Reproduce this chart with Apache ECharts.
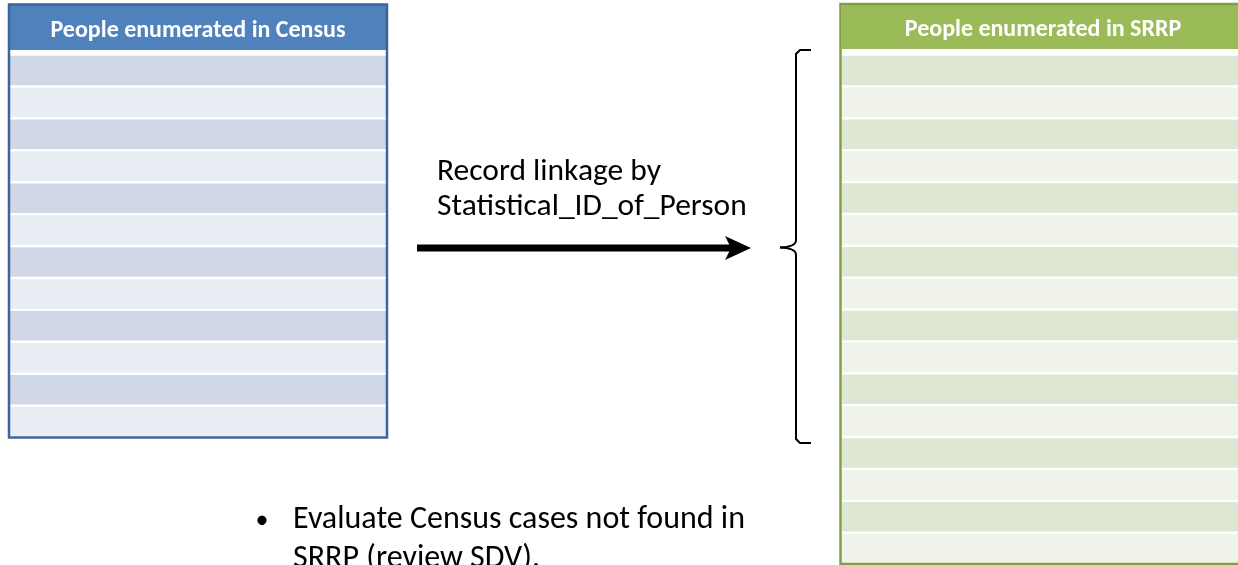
<!DOCTYPE html>
<html>
<head>
<meta charset="utf-8">
<script src="https://cdn.jsdelivr.net/npm/echarts@6/dist/echarts.min.js"></script>
<style>
html,body{margin:0;padding:0;background:#ffffff;}
#chart{width:1238px;height:565px;}
</style>
</head>
<body>
<div id="chart"></div>
<script>
// ---- data ----
const tableTitles = ['People enumerated in Census', 'People enumerated in SRRP'];
const censusRowLabels = ['R1','R2','R3','R4','R5','R6','R7','R8','R9','R10','R11','R12'];
const censusRowValues = [1,1,1,1,1,1,1,1,1,1,1,1];
const srrpRowLabels = ['R1','R2','R3','R4','R5','R6','R7','R8','R9','R10','R11','R12','R13','R14','R15','R16'];
const srrpRowValues = [1,1,1,1,1,1,1,1,1,1,1,1,1,1,1,1];
const linkageText = ['Record linkage by', 'Statistical_ID_of_Person'];
const bulletText = ['Evaluate Census cases not found in', 'SRRP (review SDV).'];

const FONT = 'Carlito, Lato, sans-serif';
const chart = echarts.init(document.getElementById('chart'), null, {renderer: 'canvas'});

function stripe(dark, light) {
  return function (p) { return p.dataIndex % 2 === 0 ? dark : light; };
}

const braceStyle = {fill: 'none', stroke: '#000000', lineWidth: 2};

const option = {
  animation: false,
  backgroundColor: '#ffffff',
  grid: [
    {left: 10, top: 54.5, width: 376, height: 383, containLabel: false},
    {left: 842, top: 54.5, width: 410, height: 510, containLabel: false}
  ],
  xAxis: [
    {gridIndex: 0, type: 'value', min: 0, max: 1, show: false},
    {gridIndex: 1, type: 'value', min: 0, max: 1, show: false}
  ],
  yAxis: [
    {gridIndex: 0, type: 'category', data: censusRowLabels, inverse: true, show: false},
    {gridIndex: 1, type: 'category', data: srrpRowLabels, inverse: true, show: false}
  ],
  series: [
    {type: 'bar', xAxisIndex: 0, yAxisIndex: 0, data: censusRowValues, barWidth: 29.5, silent: true,
     itemStyle: {color: stripe('#D0D8E8', '#E9EDF4')}},
    {type: 'bar', xAxisIndex: 1, yAxisIndex: 1, data: srrpRowValues, barWidth: 29.5, silent: true,
     itemStyle: {color: stripe('#DEE7D1', '#EFF3EA')}}
  ],
  graphic: [
    // left table header + frame
    {type: 'rect', z: 10, shape: {x: 10, y: 5, width: 376, height: 45}, style: {fill: '#4F81BD'}},
    {type: 'text', z: 12, x: 198, y: 31, style: {text: tableTitles[0], fill: '#ffffff', font: 'bold 24px ' + FONT, textAlign: 'center', textVerticalAlign: 'middle'}},
    {type: 'rect', z: 11, shape: {x: 9, y: 4.5, width: 378, height: 433}, style: {fill: 'none', stroke: '#3D659A', lineWidth: 2.5}},
    // right table header + frame
    {type: 'rect', z: 10, shape: {x: 842, y: 4, width: 410, height: 45}, style: {fill: '#9BBB59'}},
    {type: 'text', z: 12, x: 1043, y: 30, style: {text: tableTitles[1], fill: '#ffffff', font: 'bold 24px ' + FONT, textAlign: 'center', textVerticalAlign: 'middle'}},
    {type: 'rect', z: 11, shape: {x: 840.5, y: 4, width: 420, height: 560}, style: {fill: 'none', stroke: '#7F9F45', lineWidth: 2.5}},
    // arrow
    {type: 'line', z: 10, shape: {x1: 417, y1: 248, x2: 732, y2: 248}, style: {stroke: '#000000', lineWidth: 7}},
    {type: 'polygon', z: 10, shape: {points: [[725, 236], [751, 248], [725, 260], [731, 248]]}, style: {fill: '#000000'}},
    // linkage text
    {type: 'text', z: 12, x: 437, y: 172, style: {text: linkageText[0], fill: '#000000', font: '31.5px ' + FONT, textAlign: 'left', textVerticalAlign: 'middle'}},
    {type: 'text', z: 12, x: 437, y: 207, style: {text: linkageText[1], fill: '#000000', font: '31.5px ' + FONT, textAlign: 'left', textVerticalAlign: 'middle'}},
    // brace
    {type: 'polyline', z: 10, shape: {points: [[811, 50], [800, 50], [796, 54], [796, 240]]}, style: braceStyle},
    {type: 'bezierCurve', z: 10, shape: {x1: 796, y1: 240, cpx1: 796, cpy1: 247, x2: 780, y2: 247.5}, style: braceStyle},
    {type: 'bezierCurve', z: 10, shape: {x1: 780, y1: 247.5, cpx1: 796, cpy1: 248, x2: 796, y2: 255}, style: braceStyle},
    {type: 'polyline', z: 10, shape: {points: [[796, 255], [796, 439], [800, 443], [811, 443]]}, style: braceStyle},
    // bullet
    {type: 'text', z: 12, x: 262, y: 521, style: {text: '\u2022', fill: '#000000', font: '26px ' + FONT, textAlign: 'center', textVerticalAlign: 'middle'}},
    {type: 'text', z: 12, x: 293, y: 520, style: {text: bulletText[0], fill: '#000000', font: '32px ' + FONT, textAlign: 'left', textVerticalAlign: 'middle'}},
    {type: 'text', z: 12, x: 293, y: 559, style: {text: bulletText[1], fill: '#000000', font: '32px ' + FONT, textAlign: 'left', textVerticalAlign: 'middle'}}
  ]
};
chart.setOption(option);
</script>
</body>
</html>
